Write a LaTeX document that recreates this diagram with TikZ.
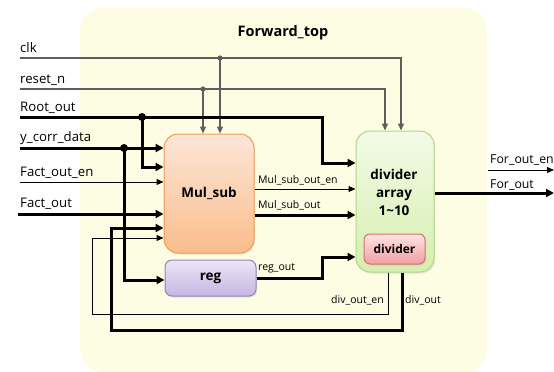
\documentclass[tikz,border=0pt]{standalone}
\usepackage{fontspec}
\setmainfont{Open Sans}
\usetikzlibrary{arrows.meta,calc,shadows}

\definecolor{panelbg}{HTML}{FDFDE3}
\definecolor{wiregray}{HTML}{5E5E5E}
\definecolor{mulTop}{HTML}{FCE6D8}
\definecolor{mulBot}{HTML}{FABD8C}
\definecolor{mulLine}{HTML}{F59A55}
\definecolor{regTop}{HTML}{ECE6F6}
\definecolor{regBot}{HTML}{C7B5E3}
\definecolor{regLine}{HTML}{9482BA}
\definecolor{arrTop}{HTML}{F3FBE7}
\definecolor{arrBot}{HTML}{D6EEAE}
\definecolor{arrLine}{HTML}{B3D58A}
\definecolor{divTop}{HTML}{FCE4E4}
\definecolor{divBot}{HTML}{F19F9F}
\definecolor{divLine}{HTML}{D37474}

\tikzset{
  block/.style={rectangle, rounded corners=#1, draw, line width=1pt,
    inner sep=0pt, font=\fontsize{13.5}{16}\selectfont\bfseries, align=center,
    drop shadow={opacity=0.18, shadow xshift=1.2pt, shadow yshift=-1.5pt}},
  sig/.style={font=\fontsize{13.2}{15}\selectfont, inner sep=0pt, anchor=base west},
  small/.style={font=\fontsize{10.5}{12}\selectfont, inner sep=0pt, anchor=base west},
  thickw/.style={line width=3pt, -{Triangle[length=8pt,width=8pt]}},
  thinw/.style={line width=1pt, -{Triangle[length=7pt,width=6pt]}},
  grayw/.style={line width=1.2pt, draw=wiregray, -{Triangle[length=7pt,width=6pt]}},
}

\begin{document}
\begin{tikzpicture}[x=1pt,y=-1pt]
  \useasboundingbox (0,0) rectangle (554,372);

  % enclosing module
  \fill[panelbg, rounded corners=22pt] (80,8) rectangle (487,372);
  \node[font=\fontsize{14.5}{17}\selectfont\bfseries, inner sep=0pt] (title) at (283,33) {Forward\_top};

  % blocks
  \node[block=14pt, draw=mulLine, top color=mulTop, bottom color=mulBot,
        minimum width=90pt, minimum height=119pt] (mulsub) at (209,193.5) {Mul\_sub};
  \node[block=7pt, draw=regLine, top color=regTop, bottom color=regBot,
        minimum width=91pt, minimum height=36pt] (reg) at (210.5,278) {reg};
  \node[block=14pt, draw=arrLine, top color=arrTop, bottom color=arrBot,
        minimum width=78pt, minimum height=141pt] (divarr) at (395,201.5) {};
  \node[font=\fontsize{13.5}{18}\selectfont\bfseries, align=center, inner sep=0pt]
        (divlbl) at (394,192) {divider\\array\\1\textasciitilde10};
  \node[block=6pt, draw=divLine, top color=divTop, bottom color=divBot,
        minimum width=61pt, minimum height=30pt,
        font=\fontsize{12}{14}\selectfont\bfseries] (div) at (394.5,249) {divider};

  % input ports
  \coordinate (clk)  at (20,58);
  \coordinate (rst)  at (20,89);
  \coordinate (root) at (20,117);
  \coordinate (ycd)  at (20,148);
  \coordinate (foe)  at (20,182);
  \coordinate (fo)   at (18,214);
  % output ports
  \coordinate (foen) at (488,170);
  \coordinate (foenend) at (554,170);
  \coordinate (foutend) at (554,193);

  % junctions and bends
  \coordinate (jclk)  at (220,58);
  \coordinate (jrst)  at (203,89);
  \coordinate (jroot) at (142,117);
  \coordinate (jycd)  at (124,148);
  \coordinate (rbend) at (322,163);
  \coordinate (gbend) at (322,278);
  \coordinate (dob)   at (111,330);
  \coordinate (deb)   at (92,314);

  % signal names
  \node[sig] (lclk)  at (20,52)  {clk};
  \node[sig] (lrst)  at (20,83)  {reset\_n};
  \node[sig] (lroot) at (20,111) {Root\_out};
  \node[sig] (lycd)  at (20,141) {y\_corr\_data};
  \node[sig] (lfoe)  at (20,176) {Fact\_out\_en};
  \node[sig] (lfo)   at (20,207) {Fact\_out};
  \node[small] (lmoe) at (258,183) {Mul\_sub\_out\_en};
  \node[small] (lmo)  at (258,208) {Mul\_sub\_out};
  \node[small] (lrg)  at (258,270) {reg\_out};
  \node[small, anchor=base east] (ldoe) at (384,303) {div\_out\_en};
  \node[small] (ldo)  at (405,303) {div\_out};
  \node[sig, font=\fontsize{12.3}{14}\selectfont] (lfoen) at (490,163) {For\_out\_en};
  \node[sig, font=\fontsize{12.3}{14}\selectfont] (lfout) at (490,188) {For\_out};

  % clock and reset
  \draw[grayw] (clk) -| ($(divarr.north)+(6,0)$);
  \draw[grayw] (jclk) -- (jclk |- mulsub.north);
  \draw[grayw] (rst) -| ($(divarr.north)+(-10,0)$);
  \draw[grayw] (jrst) -- (jrst |- mulsub.north);
  \fill[wiregray] (jclk) circle (2.6pt);
  \fill[wiregray] (jrst) circle (2.6pt);

  % Root_out
  \draw[thickw] (root) -- (root -| rbend) -- (rbend) -- (rbend -| divarr.west);
  \draw[thickw] (jroot) |- ($(mulsub.west)+(0,-26.5)$);
  \fill (jroot) circle (4pt);

  % y_corr_data
  \draw[thickw] (ycd) -- ($(mulsub.west)+(0,-45.5)$);
  \draw[thickw] (jycd) |- ($(reg.west)+(0,2)$);
  \fill (jycd) circle (4pt);

  % Fact_out_en, Fact_out
  \draw[thinw] (foe) -- ($(mulsub.west)+(0,-11.5)$);
  \draw[thickw] (fo) -- ($(mulsub.west)+(0,20.5)$);

  % Mul_sub outputs
  \draw[thinw] ($(mulsub.east)+(0,-4.5)$) -- ($(divarr.west)+(0,-12.5)$);
  \draw[thickw] ($(mulsub.east)+(0,21.5)$) -- ($(divarr.west)+(0,13.5)$);

  % reg_out
  \draw[thickw] (reg.east) -- (gbend) |- ($(divarr.west)+(0,55.5)$);

  % feedback from the divider array
  \draw[thickw] ($(divarr.south)+(7,0)$) |- (dob) |- ($(mulsub.west)+(0,34.5)$);
  \draw[thinw] ($(divarr.south)+(-7,0)$) |- (deb) |- ($(mulsub.west)+(0,44.5)$);

  % outputs
  \draw[thinw] (foen) -- (foenend);
  \draw[thickw] ($(divarr.east)+(0,-8.5)$) -- (foutend);
\end{tikzpicture}
\end{document}
